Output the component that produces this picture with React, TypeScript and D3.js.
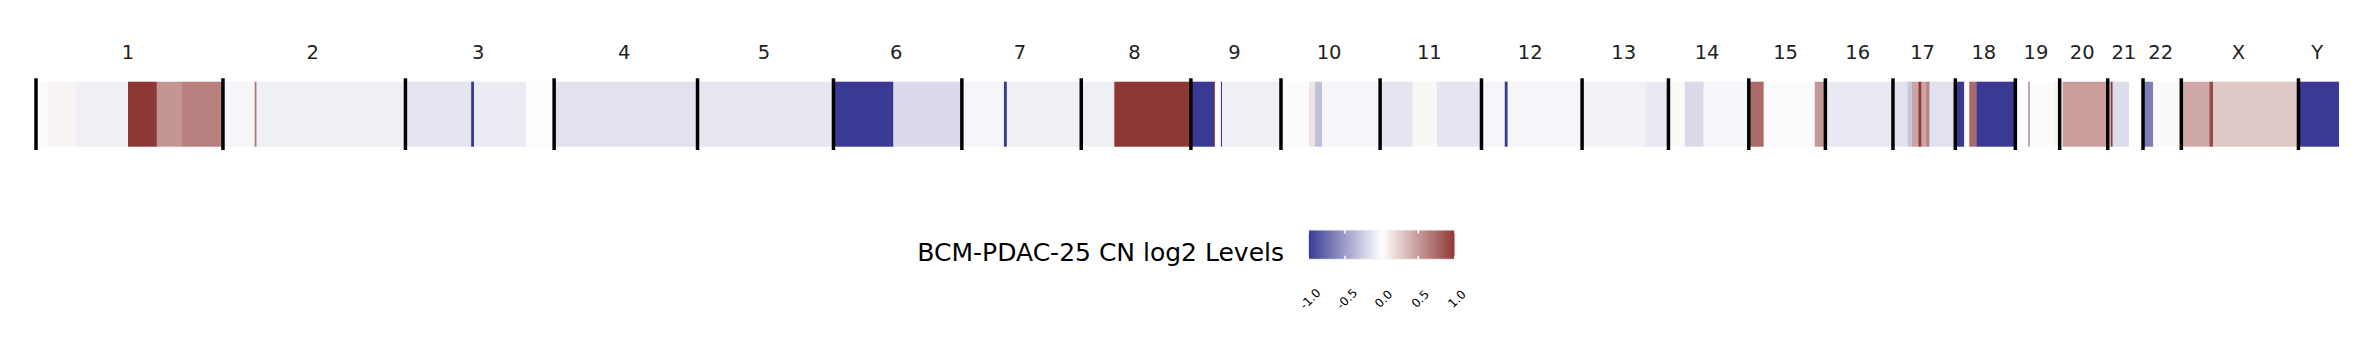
import React from 'react';
import * as d3 from 'd3';

const CHROMS = ['1', '2', '3', '4', '5', '6', '7', '8', '9', '10', '11', '12', '13', '14', '15', '16', '17', '18', '19', '20', '21', '22', 'X', 'Y'];
// chromosome extents in Mb
const CHROM_SIZES_MB = [249, 243, 198, 191, 181, 171, 159, 146, 120, 132, 135, 134, 115, 107, 102, 90, 83, 80, 59, 64, 47, 51, 156, 54];

// [chrom, start Mb, end Mb, log2 ratio]
const SEGMENTS: [string, number, number, number][] = [
  ['1', 0, 15, -0.02], ['1', 15, 53, 0.055], ['1', 53, 122.5, -0.08], ['1', 122.5, 161, 1.0], ['1', 161, 194.5, 0.53], ['1', 194.5, 249, 0.64],
  ['2', 0, 42.2, -0.05], ['2', 42.2, 44.9, 0.69], ['2', 44.9, 243, -0.08],
  ['3', 0, 87.5, -0.13], ['3', 87.5, 91.5, -1.0], ['3', 91.5, 160.7, -0.1], ['3', 160.7, 198, -0.01],
  ['4', 0, 191, -0.15],
  ['5', 0, 181, -0.12],
  ['6', 0, 80, -1.0], ['6', 80, 171, -0.19],
  ['7', 0, 56, -0.045], ['7', 56, 60, -1.0], ['7', 60, 159, -0.08],
  ['8', 0, 44, -0.08], ['8', 44, 146, 1.0],
  ['9', 0, 31, -1.0], ['9', 31, 32.4, 1.0], ['9', 32.4, 40, 0.03], ['9', 40, 41.5, -1.0], ['9', 41.5, 120, -0.08],
  ['10', 0, 37.3, -0.02], ['10', 37.3, 45.3, 0.14], ['10', 45.3, 54.6, -0.32], ['10', 54.6, 132, -0.045],
  ['11', 0, 43.5, -0.13], ['11', 43.5, 75.5, 0.04], ['11', 75.5, 135, -0.13],
  ['12', 0, 31, -0.045], ['12', 31, 35, -1.0], ['12', 35, 134, -0.045],
  ['13', 0, 85.2, -0.07], ['13', 85.2, 115, -0.11],
  ['14', 0, 21.7, 0.03], ['14', 21.7, 47, -0.19], ['14', 47, 107, -0.04],
  ['15', 0, 20, 0.75], ['15', 20, 87.9, -0.02], ['15', 87.9, 102, 0.52],
  ['16', 0, 90, -0.11],
  ['17', 0, 19.2, -0.14], ['17', 19.2, 24.9, -0.29], ['17', 24.9, 33.8, 0.46], ['17', 33.8, 38.2, 1.0], ['17', 38.2, 43.5, 0.46], ['17', 43.5, 48.9, 0.61], ['17', 48.9, 83, -0.15],
  ['18', 0, 12, -1.0], ['18', 12, 18.6, -0.01], ['18', 18.6, 28, 0.75], ['18', 28, 80, -1.0],
  ['19', 0, 16.9, -0.01], ['19', 16.9, 19.6, 0.46], ['19', 19.6, 50.6, 0.02], ['19', 50.6, 59, 0.05],
  ['20', 0, 4, 0.06], ['20', 4, 64, 0.49],
  ['21', 0, 4, -0.24], ['21', 4, 6.7, 1.0], ['21', 6.7, 28.4, -0.18], ['21', 28.4, 47, 0.0],
  ['22', 0, 13.7, -0.66], ['22', 13.7, 51, -0.03],
  ['X', 0, 37.3, 0.43], ['X', 37.3, 42.6, 0.91], ['X', 42.6, 156, 0.28],
  ['Y', 0, 54, -1.0],
];

const LEGEND_TICKS = [-1.0, -0.5, 0.0, 0.5, 1.0];
const LEGEND_TITLE = 'BCM-PDAC-25 CN log2 Levels';

const W = 2362;
const H = 354;
const FONT = '"DejaVu Sans", sans-serif';

export default function App() {
  // cumulative genome offsets
  const offsets: Record<string, number> = {};
  let acc = 0;
  CHROMS.forEach((c, i) => {
    offsets[c] = acc;
    acc += CHROM_SIZES_MB[i];
  });
  const total = acc;

  const x = d3.scaleLinear().domain([0, total]).range([36, 2339]);
  const color = d3.scaleLinear<string>()
    .domain([-1, 0, 1])
    .range(['#3a3a94', '#ffffff', '#8e3835'])
    .clamp(true);

  const barTop = 81.7;
  const barH = 65;

  // legend
  const lx = d3.scaleLinear().domain([-1, 1]).range([1308.3, 1455]);
  const legTop = 230;
  const legH = 29.3;
  const gradStops = d3.range(0, 1.0001, 0.1);
  const fmt = (t: number) => d3.format('.1f')(t).replace('\u2212', '-');

  return (
    <svg width={W} height={H} style={{ position: 'absolute', left: 0, top: 0, background: '#fff' }}>
      <defs>
        <linearGradient id="cn-grad" x1="0" x2="1" y1="0" y2="0">
          {gradStops.map(t => (
            <stop key={t} offset={t} stopColor={color(-1 + 2 * t)} />
          ))}
        </linearGradient>
      </defs>

      {SEGMENTS.map(([c, s, e, v], i) => (
        <rect
          key={i}
          x={x(offsets[c] + s)}
          y={barTop}
          width={x(offsets[c] + e) - x(offsets[c] + s)}
          height={barH}
          fill={color(v)}
        />
      ))}

      {CHROMS.map(c => (
        <line
          key={'sep' + c}
          x1={x(offsets[c])}
          x2={x(offsets[c])}
          y1={78.3}
          y2={150}
          stroke="#000"
          strokeWidth={3.5}
        />
      ))}

      {CHROMS.map((c, i) => (
        <text
          key={'lab' + c}
          x={x(offsets[c] + CHROM_SIZES_MB[i] / 2) - 1.5}
          y={58.5}
          textAnchor="middle"
          fontFamily={FONT}
          fontSize={19.5}
          fill="#222"
        >
          {c}
        </text>
      ))}

      <text x={1284} y={260.5} textAnchor="end" fontFamily={FONT} fontSize={25} fill="#000">
        {LEGEND_TITLE}
      </text>
      <rect x={lx(-1)} y={legTop} width={lx(1) - lx(-1)} height={legH} fill="url(#cn-grad)" stroke="#f4f4f8" strokeWidth={1} />
      {LEGEND_TICKS.map(t => (
        <g key={'lt' + t}>
          <line x1={lx(t)} x2={lx(t)} y1={legTop} y2={legTop + 3.5} stroke="#fff" strokeWidth={1.5} />
          <line x1={lx(t)} x2={lx(t)} y1={legTop + legH - 3.5} y2={legTop + legH} stroke="#fff" strokeWidth={1.5} />
          <text
            transform={`translate(${lx(t) + 2},${299}) rotate(-45)`}
            textAnchor="middle"
            dominantBaseline="central"
            fontFamily={FONT}
            fontSize={12}
            fill="#000"
          >
            {fmt(t)}
          </text>
        </g>
      ))}
    </svg>
  );
}
